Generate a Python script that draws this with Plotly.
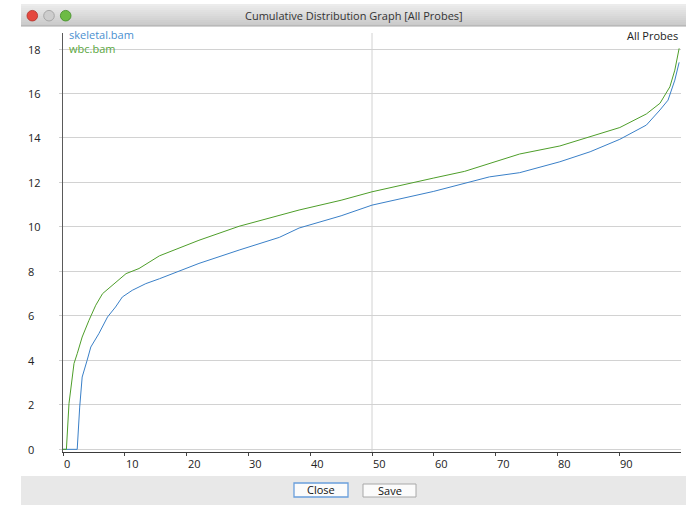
import plotly.graph_objects as go

# ---------------- data ----------------
pct_skeletal = [0, 2.3, 2.7, 3.1, 3.9, 4.5, 5.8, 7.2, 8.5, 9.6, 11.2, 13.4, 15.6, 22, 28.5,
                35, 38.2, 45, 50, 55, 60, 69, 73.9, 80.4, 85.3, 90.1, 94.4, 96.6, 97.9, 99.0, 99.7]
val_skeletal = [0, 0, 1.9, 3.25, 4.0, 4.6, 5.2, 5.95, 6.4, 6.85, 7.15, 7.45, 7.67, 8.36, 8.96,
                9.53, 9.95, 10.5, 10.98, 11.3, 11.6, 12.25, 12.44, 12.93, 13.38, 13.94, 14.58, 15.26, 15.7, 16.6, 17.4]

pct_wbc = [0, 0.55, 0.97, 1.4, 1.78, 2.3, 3.1, 4.2, 5.3, 6.4, 8.0, 10.2, 12.3, 15.6, 22, 28.5,
           38.2, 45, 50, 55, 60, 65, 69, 73.9, 80.4, 85.3, 90.1, 94.4, 96.6, 98.2, 99.0, 99.7]
val_wbc = [0, 0, 2.06, 3.1, 3.86, 4.3, 5.05, 5.8, 6.48, 7.0, 7.38, 7.9, 8.13, 8.7, 9.4, 10.03,
           10.76, 11.2, 11.58, 11.9, 12.2, 12.5, 12.86, 13.28, 13.64, 14.05, 14.47, 15.08, 15.56, 16.3, 17.05, 18.03]

series_names = ["skeletal.bam", "wbc.bam"]
x_ticks = [0, 10, 20, 30, 40, 50, 60, 70, 80, 90]
y_ticks = [0, 2, 4, 6, 8, 10, 12, 14, 16, 18]
window_title = "Cumulative Distribution Graph [All Probes]"
chart_label = "All Probes"
button_labels = ["Close", "Save"]

# ---------------- geometry helpers ----------------
W, H = 689, 505
ML, MR, MT, MB = 63, 8, 33, 53
PW, PH = W - ML - MR, H - MT - MB


def px(x):
    return (x - ML) / PW


def py(y):
    return (H - MB - y) / PH


BLUE = "#3a80c8"
GREEN = "#4e9e2a"
FONT = "Open Sans"

fig = go.Figure()
fig.add_trace(go.Scatter(x=pct_skeletal, y=val_skeletal, mode="lines",
                         line=dict(color=BLUE, width=1), name=series_names[0],
                         hoverinfo="skip"))
fig.add_trace(go.Scatter(x=pct_wbc, y=val_wbc, mode="lines",
                         line=dict(color=GREEN, width=1), name=series_names[1],
                         hoverinfo="skip"))

shapes = []
annotations = []

# title bar gradient
top, bot = 4, 26
n = 11
for i in range(n):
    y0 = top + (bot - top) * i / n
    y1 = top + (bot - top) * (i + 1) / n
    c = int(236 - (236 - 202) * i / (n - 1))
    shapes.append(dict(type="rect", xref="paper", yref="paper",
                       x0=px(21), x1=px(686), y0=py(y1), y1=py(y0),
                       fillcolor=f"rgb({c},{c},{c})", line=dict(width=0), layer="below"))
shapes.append(dict(type="line", xref="paper", yref="paper", x0=px(21), x1=px(686),
                   y0=py(26), y1=py(26), line=dict(color="#a8a8a8", width=1)))
# traffic lights
for cx, col, border in [(32.3, "#e5483f", "#b03028"), (49, "#cdcdcd", "#9a9a9a"), (65.7, "#6dbb45", "#3f8a25")]:
    r = 5.3
    shapes.append(dict(type="circle", xref="paper", yref="paper",
                       x0=px(cx - r), x1=px(cx + r), y0=py(15.7 + r), y1=py(15.7 - r),
                       fillcolor=col, line=dict(color=border, width=0.8)))
annotations.append(dict(text=window_title, xref="paper", yref="paper", x=px(354), y=py(15.5),
                        showarrow=False, xanchor="center", yanchor="middle",
                        font=dict(family=FONT, size=11, color="#333333")))

# bottom button panel
shapes.append(dict(type="rect", xref="paper", yref="paper", x0=px(21), x1=px(686),
                   y0=py(505), y1=py(476), fillcolor="#e8e8e8", line=dict(width=0), layer="below"))
for (x0, x1, y0, y1, bc), lab in zip([(294, 348, 483, 497, "#6a9fdc"), (363, 416, 484, 497, "#a8a8a8")],
                                    button_labels):
    shapes.append(dict(type="rect", xref="paper", yref="paper", x0=px(x0), x1=px(x1),
                       y0=py(y1), y1=py(y0), fillcolor="#fbfbfb",
                       line=dict(color=bc, width=1.3 if lab == "Close" else 1)))
    annotations.append(dict(text=lab, xref="paper", yref="paper", x=px((x0 + x1) / 2), y=py((y0 + y1) / 2),
                            showarrow=False, xanchor="center", yanchor="middle",
                            font=dict(family=FONT, size=11, color="#111111")))

# vertical grid line at 50
shapes.append(dict(type="line", xref="x", yref="paper", x0=50, x1=50, y0=0, y1=1,
                   line=dict(color="#d2d2d2", width=1), layer="below"))

# tick labels (left aligned as in the reference)
for v in y_ticks:
    annotations.append(dict(text=str(v), xref="paper", yref="y", x=px(26), y=v,
                            showarrow=False, xanchor="left", yanchor="middle",
                            font=dict(family=FONT, size=11, color="#222222")))
for v in x_ticks:
    annotations.append(dict(text=str(v), xref="x", yref="paper", x=v, y=py(463),
                            showarrow=False, xanchor="left", yanchor="middle", xshift=-1,
                            font=dict(family=FONT, size=11, color="#222222")))

# legend labels and chart label
annotations.append(dict(text=series_names[0], xref="paper", yref="paper", x=px(67), y=py(35),
                        showarrow=False, xanchor="left", yanchor="middle",
                        font=dict(family=FONT, size=11, color="#4a8fd0")))
annotations.append(dict(text=series_names[1], xref="paper", yref="paper", x=px(67), y=py(48.5),
                        showarrow=False, xanchor="left", yanchor="middle",
                        font=dict(family=FONT, size=11, color="#5aa640")))
annotations.append(dict(text=chart_label, xref="paper", yref="paper", x=px(680), y=py(35.5),
                        showarrow=False, xanchor="right", yanchor="middle",
                        font=dict(family=FONT, size=11, color="#222222")))

fig.update_layout(
    width=W, height=H,
    margin=dict(l=ML, r=MR, t=MT, b=MB, pad=0),
    paper_bgcolor="white", plot_bgcolor="white",
    showlegend=False,
    shapes=shapes, annotations=annotations,
    xaxis=dict(range=[0, 100], tickvals=x_ticks, showticklabels=False,
               ticks="outside", ticklen=3, tickcolor="#444444",
               showgrid=False, zeroline=False,
               showline=True, linecolor="#3a3a3a", linewidth=1, fixedrange=True),
    yaxis=dict(range=[-0.12, 18.72], tickvals=y_ticks, showticklabels=False,
               ticks="outside", ticklen=3, tickcolor="#cfcfcf",
               showgrid=True, gridcolor="#d2d2d2", gridwidth=1, zeroline=False,
               showline=True, linecolor="#5a5a5a", linewidth=1, fixedrange=True),
)

fig.write_html("out.html", config={"displayModeBar": False},
               post_script="document.body.style.margin='0px';document.body.style.overflow='hidden';")
